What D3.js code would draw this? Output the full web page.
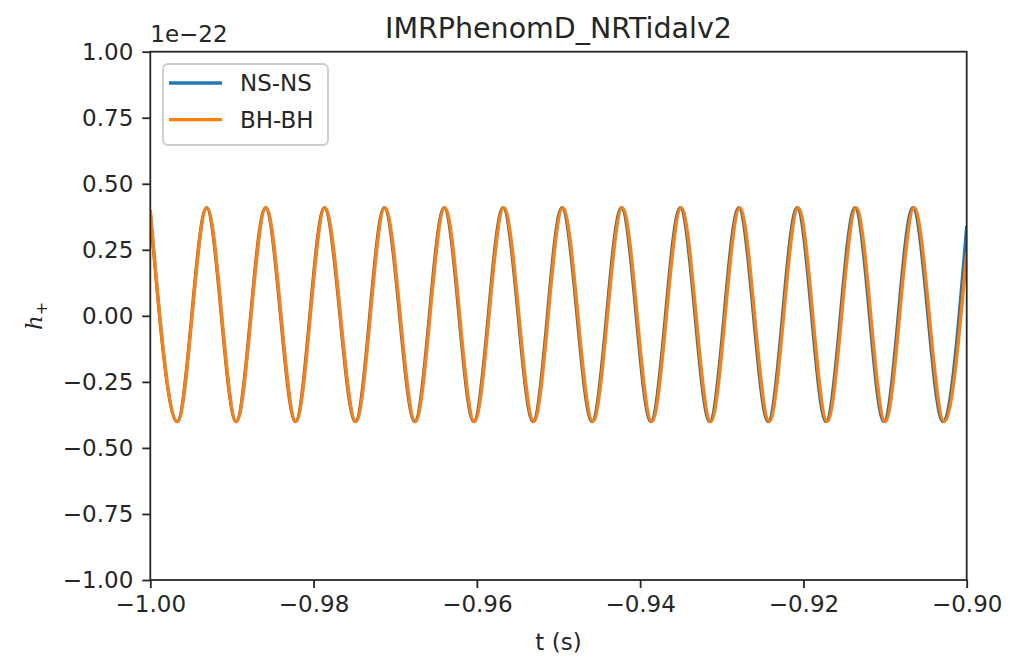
<html>
<head>
    <meta charset="utf-8">
    <title>IMRPhenomD_NRTidalv2</title>
    <style>
        body { margin: 0; background: #fff; }
        svg text { font-family: "DejaVu Sans", sans-serif; fill: #262626; }
        .line { fill: none; stroke-width: 3.3px; stroke-linejoin: round; }
        .axis path { display: none; }
        .axis line { stroke: #262626; stroke-width: 1.8px; }
    </style>
</head>
<body>
    <div id="container"></div>
    <script src="https://d3js.org/d3.v7.min.js"></script>
    <script>
        // values in units of 1e-22, times in seconds (extrema)
        let seriesNames = ["NS-NS", "BH-BH"];
        let tNS = [-1.0, -0.99671, -0.99311, -0.98950, -0.98589, -0.98222, -0.97868, -0.97488, -0.97134, -0.96761,
                   -0.96401, -0.96039, -0.95679, -0.95312, -0.94958, -0.94590, -0.94230, -0.93869, -0.93509, -0.93148,
                   -0.92793, -0.92432, -0.92078, -0.91723, -0.91369, -0.91014, -0.90660, -0.90292, -0.90];
        let hNS = [0.39, -0.40, 0.41, -0.40, 0.41, -0.40, 0.41, -0.40, 0.41, -0.40,
                   0.41, -0.40, 0.41, -0.40, 0.41, -0.40, 0.41, -0.40, 0.41, -0.40,
                   0.41, -0.40, 0.41, -0.40, 0.41, -0.40, 0.41, -0.40, 0.34];
        let tBH = [-1.0, -0.99667, -0.99306, -0.98945, -0.98583, -0.98216, -0.97861, -0.97481, -0.97126, -0.96753,
                   -0.96392, -0.96030, -0.95669, -0.95302, -0.94947, -0.94579, -0.94218, -0.93857, -0.93496, -0.93135,
                   -0.92779, -0.92418, -0.92063, -0.91708, -0.91353, -0.90998, -0.90643, -0.90275, -0.90];
        let hBH = [0.40, -0.40, 0.41, -0.40, 0.41, -0.40, 0.41, -0.40, 0.41, -0.40,
                   0.41, -0.40, 0.41, -0.40, 0.41, -0.40, 0.41, -0.40, 0.41, -0.40,
                   0.41, -0.40, 0.41, -0.40, 0.41, -0.40, 0.41, -0.40, 0.24];
        let xTicks = [-1.00, -0.98, -0.96, -0.94, -0.92, -0.90];
        let yTicks = [-1.00, -0.75, -0.50, -0.25, 0.00, 0.25, 0.50, 0.75, 1.00];

        let width = 1010,
            height = 662,
            margin = { left: 150.3, right: 1010 - 966.7, top: 51.7, bottom: 662 - 580 },
            colors = ["#1f77b4", "#ff7f0e"];

        let svg = d3.select('#container')
            .append('svg')
            .attr('width', width)
            .attr('height', height);

        let x = d3.scaleLinear().domain([-1.0, -0.9]).range([margin.left, width - margin.right]),
            y = d3.scaleLinear().domain([-1, 1]).range([height - margin.bottom, margin.top]);

        let fmt = function (d) { return d3.format(".2f")(d).replace("-", "\u2212"); };

        svg.append("clipPath").attr("id", "clip")
            .append("rect")
            .attr("x", x(-1.0)).attr("y", y(1))
            .attr("width", x(-0.9) - x(-1.0)).attr("height", y(-1) - y(1));

        // lines
        let line = d3.line()
            .x(function (d) { return x(d[0]); })
            .y(function (d) { return y(d[1]); })
            .curve(d3.curveMonotoneX);

        let series = [d3.zip(tNS, hNS), d3.zip(tBH, hBH)];
        svg.append('g').attr('clip-path', 'url(#clip)')
            .selectAll('path')
            .data(series)
            .enter().append('path')
            .attr('class', 'line')
            .attr('stroke', function (d, i) { return colors[i]; })
            .attr('d', line);

        // axes
        let xAxis = svg.append("g")
            .attr("class", "axis")
            .attr("transform", "translate(0," + y(-1) + ")")
            .call(d3.axisBottom(x).tickValues(xTicks).tickFormat(fmt).tickSize(8).tickPadding(8));
        xAxis.selectAll("text").attr("font-size", 23).attr("fill", "#262626");

        let yAxis = svg.append("g")
            .attr("class", "axis")
            .attr("transform", "translate(" + x(-1.0) + ",0)")
            .call(d3.axisLeft(y).tickValues(yTicks).tickFormat(fmt).tickSize(8).tickPadding(9));
        yAxis.selectAll("text").attr("font-size", 23).attr("fill", "#262626");

        // spines
        svg.append("rect")
            .attr("x", x(-1.0)).attr("y", y(1))
            .attr("width", x(-0.9) - x(-1.0)).attr("height", y(-1) - y(1))
            .attr("fill", "none")
            .attr("stroke", "#262626")
            .attr("stroke-width", 1.8);

        // offset text, title, labels
        svg.append("text")
            .attr("x", x(-1.0)).attr("y", 42)
            .attr("font-size", 23)
            .text("1e\u221222");

        svg.append("text")
            .attr("x", (x(-1.0) + x(-0.9)) / 2).attr("y", 38)
            .attr("text-anchor", "middle")
            .attr("font-size", 28.5)
            .text("IMRPhenomD_NRTidalv2");

        svg.append("text")
            .attr("x", (x(-1.0) + x(-0.9)) / 2).attr("y", 650)
            .attr("text-anchor", "middle")
            .attr("font-size", 23)
            .text("t (s)");

        let ylab = svg.append("text")
            .attr("transform", "translate(42," + y(0) + ") rotate(-90)")
            .attr("text-anchor", "middle")
            .attr("font-size", 23);
        ylab.append("tspan").attr("font-style", "italic").attr("font-family", "DejaVu Serif").text("h");
        ylab.append("tspan").attr("font-size", 16).attr("dy", 5).text("+");

        // legend
        let legend = svg.append("g").attr("transform", "translate(163,64)");
        legend.append("rect")
            .attr("width", 165).attr("height", 81)
            .attr("rx", 5)
            .attr("fill", "#fff").attr("fill-opacity", 0.8)
            .attr("stroke", "#cccccc").attr("stroke-width", 1.8);
        let items = legend.selectAll(".item")
            .data(seriesNames)
            .enter().append("g")
            .attr("transform", function (d, i) { return "translate(0," + (19 + i * 36.6) + ")"; });
        items.append("line")
            .attr("x1", 6).attr("x2", 59)
            .attr("stroke", function (d, i) { return colors[i]; })
            .attr("stroke-width", 3.3);
        items.append("text")
            .attr("x", 77).attr("dy", "0.35em")
            .attr("font-size", 23)
            .text(function (d) { return d; });
    </script>
</body>
</html>
